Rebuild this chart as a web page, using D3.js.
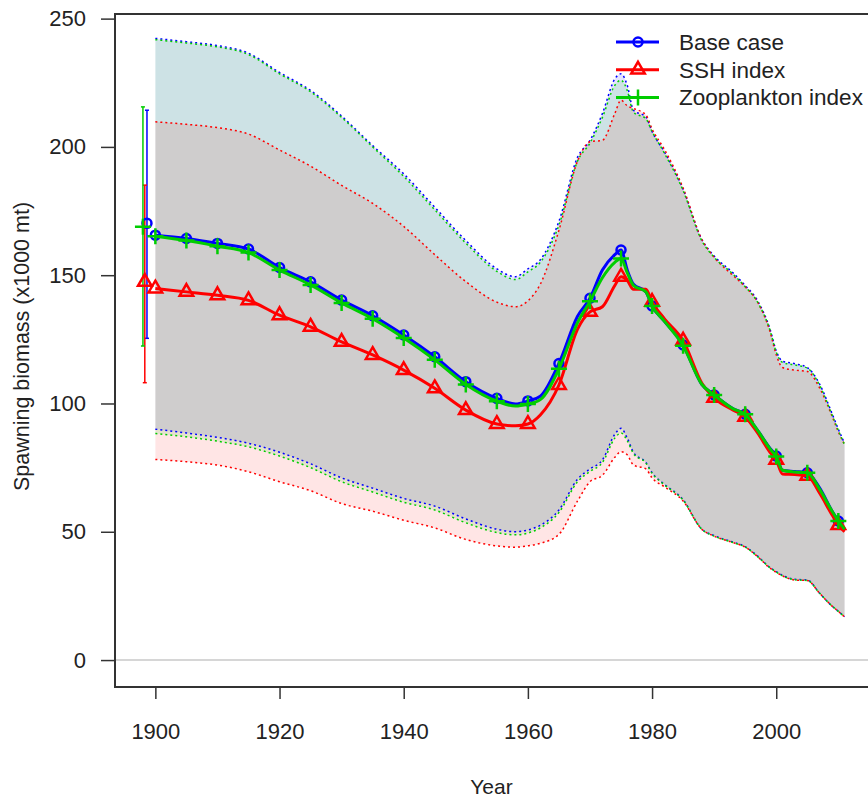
<!DOCTYPE html>
<html>
<head>
<meta charset="utf-8">
<script src="https://cdn.jsdelivr.net/npm/d3@7"></script>
<style>
  body { margin: 0; background: #fff; }
  text { font-family: "Liberation Sans", Arial, sans-serif; fill: #222; }
</style>
</head>
<body>
<script>
const width = 868;
const height = 798;

const years = [1900,1905,1910,1915,1920,1925,1930,1935,1940,1945,1950,1955,1958,1960,1962,1965,1968,1970,1972,1974,1975,1976,1977,1979,1980,1982,1985,1988,1990,1993,1995,1997,1999,2000,2001,2003,2005,2007,2009,2010,2011];

const baseMean = [165.6,164.3,162.4,160.2,153.0,147.4,140.3,134.2,126.7,118.2,108.5,102.0,99.8,101.0,102.8,115.6,134.0,141.0,152.0,158.0,159.8,152.0,146.5,143.5,138.0,132.0,122.8,107.5,103.3,98.0,95.8,89.5,82.5,79.5,74.0,73.5,73.0,67.0,58.0,54.2,51.0];
const baseLo   = [90.0,88.5,86.8,84.5,81.0,76.5,71.0,67.0,63.0,60.0,55.0,51.0,50.0,50.7,52.5,58.5,70.5,74.5,78.0,88.0,90.3,86.5,81.0,77.0,73.0,68.5,62.5,51.0,48.5,46.0,44.2,40.5,36.0,34.5,33.0,31.5,31.2,26.0,21.0,19.0,16.9];
const baseHi   = [242.3,241.0,239.5,236.5,229.0,222.0,212.0,200.5,189.5,176.5,163.5,152.5,149.4,152.5,156.0,171.0,196.0,202.5,213.0,226.5,228.5,224.0,214.3,211.7,206.0,198.0,183.5,164.0,157.5,151.0,146.0,140.0,129.0,120.5,116.5,115.5,114.0,107.5,96.0,90.0,84.5];

const sshMean  = [144.8,143.5,142.2,140.2,134.4,129.9,124.0,118.9,113.0,105.9,97.4,92.0,91.3,92.0,95.5,107.2,129.0,135.7,137.7,146.0,149.4,148.0,144.5,144.5,139.6,133.0,124.5,108.0,102.2,97.5,94.8,88.5,81.0,78.0,72.5,72.3,71.8,65.0,56.5,52.6,50.0];
const sshLo    = [78.2,77.3,76.0,73.4,69.5,66.0,61.0,58.0,54.5,51.5,47.0,44.5,44.0,44.5,45.5,49.0,62.0,69.5,72.0,79.0,81.2,80.0,76.0,74.5,71.0,67.5,62.0,51.0,48.3,45.8,44.0,40.3,35.8,34.2,32.8,31.2,31.0,26.0,21.0,19.0,16.8];
const sshHi    = [209.8,208.8,207.5,205.0,198.8,192.5,185.0,178.0,169.0,158.0,147.5,139.5,137.7,140.0,146.5,167.5,194.5,202.0,202.6,213.0,218.2,216.0,215.0,212.5,207.0,199.0,184.0,164.0,157.0,150.0,145.5,139.5,128.0,119.0,114.0,113.0,112.5,106.0,95.0,89.0,84.0];

const zooMean  = [165.2,163.5,161.3,158.8,152.0,146.2,139.2,133.0,125.5,117.0,107.4,100.9,99.0,99.8,101.5,113.5,131.5,139.8,149.0,155.0,156.5,151.0,146.0,143.5,138.0,132.0,122.5,107.5,103.3,98.0,95.8,89.5,82.3,79.3,74.0,73.3,73.0,66.5,58.0,54.2,51.0];
const zooLo    = [88.3,87.0,85.3,83.1,79.5,75.0,69.5,65.5,61.5,58.5,53.5,49.7,48.8,49.5,51.5,57.5,69.5,73.5,77.0,86.5,88.5,85.5,80.5,76.8,72.8,68.3,62.3,51.0,48.3,45.8,44.0,40.3,36.0,34.3,32.8,31.3,31.0,26.0,21.0,19.0,16.8];
const zooHi    = [241.8,240.5,239.0,236.0,228.5,221.5,211.5,200.0,188.5,175.5,162.5,151.5,148.3,151.3,155.0,169.5,194.5,201.5,211.5,224.0,226.0,222.0,213.5,211.0,206.0,197.5,183.0,163.5,157.0,150.5,145.5,139.5,128.5,120.0,116.0,115.0,113.8,107.0,95.5,89.5,84.0];

// unfished (virgin) biomass with 95% interval, plotted left of 1900
const virginYears = [1898.65, 1898.3, 1898.0];
const virginMean  = [170.2, 147.4, 168.9];
const virginLo    = [125.4, 108.1, 122.4];
const virginHi    = [214.3, 185.1, 215.6];

const seriesNames = ['Base case', 'SSH index', 'Zooplankton index'];
const xTicks = [1900, 1920, 1940, 1960, 1980, 2000];
const yTicks = [0, 50, 100, 150, 200, 250];

const colors = ['#0000ff', '#ff0000', '#00cd00'];
const bandFill = ['rgba(0,0,255,0.1)', 'rgba(255,0,0,0.1)', 'rgba(0,205,0,0.1)'];

const series = [
  {name: seriesNames[0], mean: baseMean, lo: baseLo, hi: baseHi, shape: 'circle'},
  {name: seriesNames[1], mean: sshMean, lo: sshLo, hi: sshHi, shape: 'triangle'},
  {name: seriesNames[2], mean: zooMean, lo: zooLo, hi: zooHi, shape: 'plus'}
];
series.forEach((s, i) => { s.color = colors[i]; s.fill = bandFill[i]; s.i = i; });

const mLeft = 115, mRight = 870, mTop = 14, mBottom = 687;

const x = d3.scaleLinear().domain([1893.5, 2015.1]).range([mLeft, mRight]);
const y = d3.scaleLinear().domain([-10.5, 251.8]).range([mBottom, mTop]);

const svg = d3.select('body').append('svg')
  .attr('width', width)
  .attr('height', height);

// markers
function marker(g, shape, color) {
  if (shape == 'circle') {
    g.append('circle').attr('r', 4.5).attr('fill', 'none')
      .attr('stroke', color).attr('stroke-width', 2.5);
  } else if (shape == 'triangle') {
    g.append('path').attr('d', d3.symbol(d3.symbolTriangle, 80)())
      .attr('fill', 'none').attr('stroke', color).attr('stroke-width', 2.5);
  } else {
    g.append('path').attr('d', 'M-8,0H8M0,-8V8')
      .attr('fill', 'none').attr('stroke', color).attr('stroke-width', 2.5);
  }
}

const curve = d3.curveMonotoneX;

// confidence bands
series.forEach(s => {
  const area = d3.area()
    .x((d, i) => x(years[i]))
    .y0((d, i) => y(s.lo[i]))
    .y1((d, i) => y(s.hi[i]))
    .curve(curve);
  svg.append('path').datum(years).attr('d', area).attr('fill', s.fill);
});

// zero line
svg.append('line')
  .attr('x1', mLeft).attr('x2', mRight)
  .attr('y1', y(0)).attr('y2', y(0))
  .attr('stroke', '#c8c8c8').attr('stroke-width', 1.5);

// dotted band edges
series.forEach(s => {
  [s.lo, s.hi].forEach(arr => {
    const ln = d3.line().x((d, i) => x(years[i])).y(d => y(d)).curve(curve);
    svg.append('path').datum(arr).attr('d', ln)
      .attr('fill', 'none').attr('stroke', s.color)
      .attr('stroke-width', 1.5).attr('stroke-dasharray', '2,3');
  });
});

// virgin biomass error bars
series.forEach(s => {
  const vx = x(virginYears[s.i]);
  const g = svg.append('g');
  g.append('line').attr('x1', vx).attr('x2', vx)
    .attr('y1', y(virginLo[s.i])).attr('y2', y(virginHi[s.i]))
    .attr('stroke', s.color).attr('stroke-width', 1.5);
  [virginLo[s.i], virginHi[s.i]].forEach(v => {
    g.append('line').attr('x1', vx - 2).attr('x2', vx + 2)
      .attr('y1', y(v)).attr('y2', y(v))
      .attr('stroke', s.color).attr('stroke-width', 1.5);
  });
});

// mean lines + markers every 5 years
series.forEach(s => {
  const ln = d3.line().x((d, i) => x(years[i])).y(d => y(d)).curve(curve);
  svg.append('path').datum(s.mean).attr('d', ln)
    .attr('fill', 'none').attr('stroke', s.color).attr('stroke-width', 3);
  years.forEach((yr, i) => {
    if (yr % 5 == 0 && yr <= 2010) {
      marker(svg.append('g').attr('transform', `translate(${x(yr)},${y(s.mean[i])})`), s.shape, s.color);
    }
  });
  marker(svg.append('g').attr('transform', `translate(${x(virginYears[s.i])},${y(virginMean[s.i])})`), s.shape, s.color);
});

// box
svg.append('rect')
  .attr('x', mLeft).attr('y', mTop)
  .attr('width', mRight - mLeft).attr('height', mBottom - mTop)
  .attr('fill', 'none').attr('stroke', '#333').attr('stroke-width', 2);

// axes
const xAxis = svg.append('g').attr('transform', `translate(0,${mBottom})`)
  .call(d3.axisBottom(x).tickValues(xTicks).tickFormat(d3.format('d')).tickSize(12).tickPadding(24));
const yAxis = svg.append('g').attr('transform', `translate(${mLeft},0)`)
  .call(d3.axisLeft(y).tickValues(yTicks).tickSize(14).tickPadding(15));
[xAxis, yAxis].forEach(a => {
  a.select('.domain').remove();
  a.selectAll('line').attr('stroke', '#333').attr('stroke-width', 1.5);
  a.selectAll('text').style('font-size', '22px').attr('fill', '#222');
});

svg.append('text').attr('x', (mLeft + mRight) / 2 - 1).attr('y', 794)
  .attr('text-anchor', 'middle').style('font-size', '21px').text('Year');

svg.append('text')
  .attr('transform', `translate(29,${(mTop + mBottom) / 2 - 4}) rotate(-90)`)
  .attr('text-anchor', 'middle').style('font-size', '21.5px')
  .text('Spawning biomass (x1000 mt)');

// legend
const legend = svg.append('g');
series.forEach((s, i) => {
  const ly = 42 + i * 27.7;
  legend.append('line').attr('x1', 616).attr('x2', 659)
    .attr('y1', ly).attr('y2', ly)
    .attr('stroke', s.color).attr('stroke-width', 3);
  marker(legend.append('g').attr('transform', `translate(638,${ly})`), s.shape, s.color);
  legend.append('text').attr('x', 679).attr('y', ly + 8)
    .style('font-size', '22.5px').text(s.name);
});
</script>
</body>
</html>
